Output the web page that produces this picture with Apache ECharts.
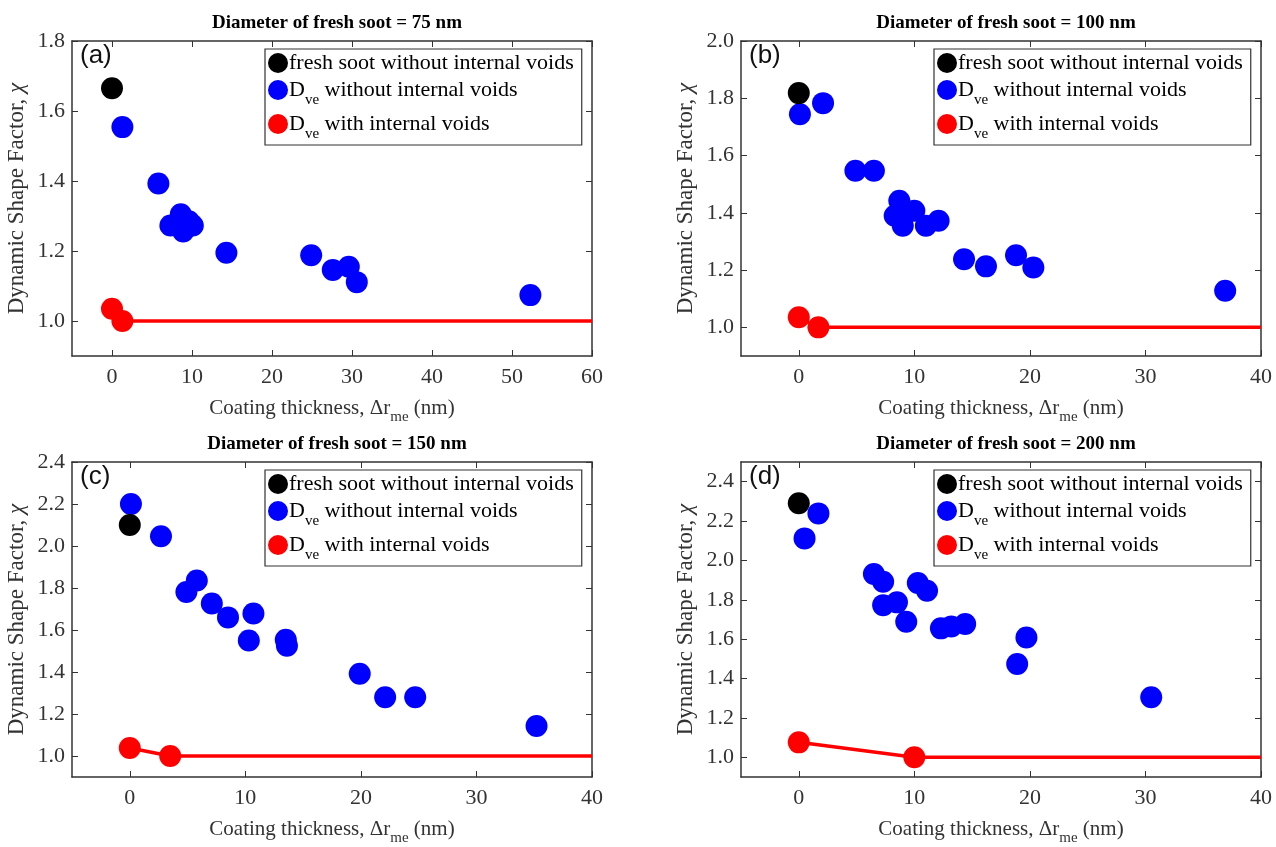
<!DOCTYPE html>
<html>
<head>
<meta charset="utf-8">
<script src="https://cdn.jsdelivr.net/npm/echarts@6/dist/echarts.min.js"></script>
<style>
  html, body { margin: 0; padding: 0; background: #fff; }
  #chart { width: 1276px; height: 847px; }
</style>
</head>
<body>
<div id="chart"></div>
<script>
// Dynamic shape factor vs. coating thickness, four soot sizes

const panelTitles = [
  'Diameter of fresh soot = 75 nm',
  'Diameter of fresh soot = 100 nm',
  'Diameter of fresh soot = 150 nm',
  'Diameter of fresh soot = 200 nm'
];
const panelTags = ['(a)', '(b)', '(c)', '(d)'];

const xTicksA = [0, 10, 20, 30, 40, 50, 60];
const xTicksBCD = [0, 10, 20, 30, 40];
const yTicksA = [1.0, 1.2, 1.4, 1.6, 1.8];
const yTicksB = [1.0, 1.2, 1.4, 1.6, 1.8, 2.0];
const yTicksC = [1.0, 1.2, 1.4, 1.6, 1.8, 2.0, 2.2, 2.4];
const yTicksD = [1.0, 1.2, 1.4, 1.6, 1.8, 2.0, 2.2, 2.4];

// (a) 75 nm
const freshA = [[0, 1.665]];
const dveA = [[1.3, 1.554], [5.8, 1.393], [7.3, 1.273], [8.6, 1.305], [8.9, 1.256],
  [9.6, 1.285], [10.1, 1.273], [14.3, 1.195], [24.9, 1.188], [27.6, 1.146],
  [29.6, 1.155], [30.6, 1.111], [52.3, 1.074]];
const voidA = [[0, 1.035], [1.3, 1.0], [60, 1.0]];

// (b) 100 nm
const freshB = [[0, 1.818]];
const dveB = [[0.1, 1.744], [2.1, 1.783], [4.9, 1.547], [6.5, 1.547], [8.3, 1.39],
  [8.7, 1.442], [9.0, 1.355], [9.3, 1.40], [10.0, 1.407], [11.0, 1.355],
  [12.1, 1.372], [14.3, 1.238], [16.2, 1.213], [18.8, 1.252], [20.3, 1.209],
  [36.9, 1.128]];
const voidB = [[0, 1.035], [1.7, 1.0], [40, 1.0]];

// (c) 150 nm
const freshC = [[0, 2.1]];
const dveC = [[0.1, 2.2], [2.7, 2.046], [4.9, 1.781], [5.8, 1.836], [7.1, 1.726],
  [8.5, 1.66], [10.7, 1.679], [10.3, 1.55], [13.5, 1.553], [13.6, 1.525],
  [19.9, 1.392], [22.1, 1.28], [24.7, 1.28], [35.2, 1.143]];
const voidC = [[0, 1.038], [3.5, 1.0], [40, 1.0]];

// (d) 200 nm
const freshD = [[0, 2.29]];
const dveD = [[1.7, 2.239], [0.5, 2.112], [6.5, 1.931], [7.3, 1.892], [7.3, 1.773],
  [8.5, 1.787], [9.3, 1.689], [10.3, 1.885], [11.1, 1.846], [12.3, 1.655],
  [13.2, 1.665], [14.4, 1.677], [18.9, 1.474], [19.7, 1.609], [30.5, 1.305]];
const voidD = [[0, 1.076], [10.0, 1.0], [40, 1.0]];

const serif = '"Liberation Serif", "Times New Roman", serif';
const axisColor = '#333';

const panels = [
  { x: [-5, 60], y: [0.9, 1.8], xt: xTicksA, yt: yTicksA, fresh: freshA, dve: dveA, voids: voidA,
    grid: { left: 72, top: 41, width: 520, height: 315 } },
  { x: [-5, 40], y: [0.9, 2.0], xt: xTicksBCD, yt: yTicksB, fresh: freshB, dve: dveB, voids: voidB,
    grid: { left: 741, top: 41, width: 520, height: 315 } },
  { x: [-5, 40], y: [0.9, 2.4], xt: xTicksBCD, yt: yTicksC, fresh: freshC, dve: dveC, voids: voidC,
    grid: { left: 72, top: 462, width: 520, height: 316 } },
  { x: [-5, 40], y: [0.9, 2.5], xt: xTicksBCD, yt: yTicksD, fresh: freshD, dve: dveD, voids: voidD,
    grid: { left: 741, top: 462, width: 520, height: 316 } }
];

const NAME_FRESH = 'fresh soot without internal voids';
const NAME_DVE = 'Dve without internal voids';
const NAME_VOID = 'Dve with internal voids';

const richText = {
  n: { fontFamily: serif, fontSize: 22, color: '#000' },
  s: { fontFamily: serif, fontSize: 15, color: '#000', padding: [21, 0, 0, 0] },
  x: { fontFamily: serif, fontSize: 21, color: '#333' },
  xs: { fontFamily: serif, fontSize: 15, color: '#333', padding: [18, 0, 0, 0] },
  y: { fontFamily: serif, fontSize: 23, color: '#333' },
  yi: { fontFamily: serif, fontSize: 23, color: '#333', fontStyle: 'italic' }
};

const tickStyle = { color: axisColor, width: 1 };
const lineStyle = { color: axisColor, width: 1.5 };

const grids = [], xAxes = [], yAxes = [], series = [], legends = [], titles = [], graphics = [];

panels.forEach((p, i) => {
  grids.push(p.grid);
  const g = p.grid;
  const fmt = v => v.toFixed(1);

  xAxes.push({
    gridIndex: i, type: 'value', min: p.x[0], max: p.x[1], position: 'bottom',
    axisLine: { show: true, onZero: false, lineStyle },
    axisTick: { show: true, inside: true, length: 6, customValues: p.xt, lineStyle: tickStyle },
    axisLabel: { customValues: p.xt, fontFamily: serif, fontSize: 22, color: axisColor, margin: 10 },
    splitLine: { show: false },
    name: '{x|Coating thickness, Δr}{xs|me}{x| (nm)}',
    nameLocation: 'middle', nameGap: 36,
    nameTextStyle: { rich: richText }
  });
  xAxes.push({
    gridIndex: i, type: 'value', min: p.x[0], max: p.x[1], position: 'top',
    axisLine: { show: true, onZero: false, lineStyle },
    axisTick: { show: true, inside: true, length: 6, customValues: p.xt, lineStyle: tickStyle },
    axisLabel: { show: false },
    splitLine: { show: false }
  });
  yAxes.push({
    gridIndex: i, type: 'value', min: p.y[0], max: p.y[1], position: 'left',
    axisLine: { show: true, onZero: false, lineStyle },
    axisTick: { show: true, inside: true, length: 6, customValues: p.yt, lineStyle: tickStyle },
    axisLabel: { customValues: p.yt, formatter: fmt, fontFamily: serif, fontSize: 22, color: axisColor, margin: 7 },
    splitLine: { show: false },
    name: '{y|Dynamic Shape Factor, }{yi|χ}',
    nameLocation: 'middle', nameGap: 44,
    nameTextStyle: { rich: richText }
  });
  yAxes.push({
    gridIndex: i, type: 'value', min: p.y[0], max: p.y[1], position: 'right',
    axisLine: { show: true, onZero: false, lineStyle },
    axisTick: { show: true, inside: true, length: 6, customValues: p.yt, lineStyle: tickStyle },
    axisLabel: { show: false },
    splitLine: { show: false }
  });

  const xi = 2 * i, yi = 2 * i;
  series.push({
    name: NAME_DVE, type: 'scatter', xAxisIndex: xi, yAxisIndex: yi,
    data: p.dve, symbol: 'circle', symbolSize: 22,
    itemStyle: { color: '#0000ff', opacity: 1 }, z: 3
  });
  series.push({
    name: NAME_FRESH, type: 'scatter', xAxisIndex: xi, yAxisIndex: yi,
    data: p.fresh, symbol: 'circle', symbolSize: 22,
    itemStyle: { color: '#000000', opacity: 1 }, z: 4
  });
  series.push({
    name: NAME_VOID, type: 'line', xAxisIndex: xi, yAxisIndex: yi,
    data: p.voids.map((d, k) => k === p.voids.length - 1 ? { value: d, symbol: 'none' } : { value: d }),
    symbol: 'circle', symbolSize: 22, showAllSymbol: true,
    lineStyle: { color: '#ff0000', width: 3.5 },
    itemStyle: { color: '#ff0000', opacity: 1 }, z: 5
  });

  legends.push({
    left: g.left + 193, top: g.top + 8, orient: 'vertical',
    backgroundColor: '#fff', borderColor: axisColor, borderWidth: 1.2,
    padding: [3, 8, 3, 3], itemGap: 5, itemWidth: 20, itemHeight: 20,
    icon: 'circle', selectedMode: false,
    data: [NAME_FRESH, NAME_DVE, NAME_VOID],
    textStyle: { fontFamily: serif, fontSize: 22, color: '#000', rich: richText, padding: [0, 0, 0, -4] },
    formatter: name => {
      if (name === NAME_FRESH) return '{n|fresh soot without internal voids}';
      if (name === NAME_DVE) return '{n|D}{s|ve}{n| without internal voids}';
      return '{n|D}{s|ve}{n| with internal voids}';
    }
  });

  titles.push({
    text: panelTitles[i], left: g.left + g.width / 2, top: g.top - 32, textAlign: 'center',
    textStyle: { fontFamily: serif, fontWeight: 'bold', fontSize: 19, color: '#000' }
  });

  graphics.push({
    type: 'text', left: g.left + 8, top: g.top + 2,
    style: { text: panelTags[i], fontFamily: 'Liberation Sans, Arial, sans-serif', fontSize: 26, fill: '#111' },
    z: 10
  });
});

const chart = echarts.init(document.getElementById('chart'), null, { renderer: 'canvas' });
chart.setOption({
  backgroundColor: '#fff',
  animation: false,
  title: titles,
  grid: grids,
  xAxis: xAxes,
  yAxis: yAxes,
  legend: legends,
  series: series,
  graphic: graphics
});
</script>
</body>
</html>
